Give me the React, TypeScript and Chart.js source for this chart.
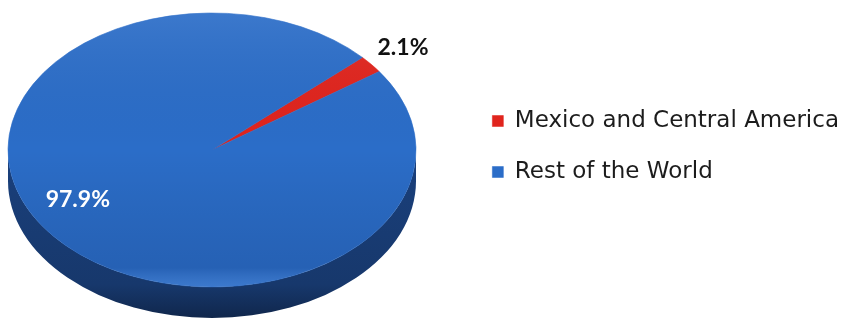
import React, { useEffect, useRef } from "react";
import { Chart, registerables } from "chart.js";

Chart.register(...registerables);

const categories = ["Mexico and Central America", "Rest of the World"];
const shares = [2.1, 97.9];
const valueLabels = ["2.1%", "97.9%"];
const sliceColors = ["#e0241d", "#2b6dc8"];
const sideColors = ["#7a1410", "#17386c"];
const labelColors = ["#111111", "#ffffff"];

const PIE = { cx: 212, cy: 150, rx: 204, ry: 137, depth: 31 };
const START_ROTATION = 47.5;
const LABEL_RADIUS = [1.2, 0.75];
const LABEL_SHIFT_DEG = [0, 10];

function darker(hex: string, f: number) {
  const n = parseInt(hex.slice(1), 16);
  const r = Math.min(255, Math.round(((n >> 16) & 255) * f));
  const g = Math.min(255, Math.round(((n >> 8) & 255) * f));
  const b = Math.min(255, Math.round((n & 255) * f));
  return `rgb(${r},${g},${b})`;
}

const pie3d = {
  id: "pie3d",
  beforeDatasetsDraw(chart: any) {
    const ctx = chart.ctx as CanvasRenderingContext2D;
    const arcs = chart.getDatasetMeta(0).data;
    if (!arcs.length) return;
    const { cx, cy, rx, ry, depth } = PIE;
    ctx.save();
    arcs.forEach((arc: any, i: number) => {
      const { startAngle, endAngle } = arc.getProps(["startAngle", "endAngle"], true);
      for (let k = -1; k <= 1; k++) {
        const off = 2 * Math.PI * k;
        const a0 = Math.max(startAngle, off);
        const a1 = Math.min(endAngle, Math.PI + off);
        if (a1 <= a0) continue;
        const s = a0 - off;
        const e = a1 - off;
        ctx.beginPath();
        ctx.ellipse(cx, cy, rx, ry, 0, s, e, false);
        ctx.ellipse(cx, cy + depth, rx, ry, 0, e, s, true);
        ctx.closePath();
        const g = ctx.createLinearGradient(0, cy, 0, cy + ry + depth);
        g.addColorStop(0, darker(sideColors[i], 1.15));
        g.addColorStop(0.8, sideColors[i]);
        g.addColorStop(1, darker(sideColors[i], 0.7));
        ctx.fillStyle = g;
        ctx.fill();
      }
    });
    ctx.restore();
    const { x: ox, y: oy, outerRadius: R } = arcs[0].getProps(["x", "y", "outerRadius"], true);
    ctx.save();
    ctx.translate(cx, cy);
    ctx.scale(rx / R, ry / R);
    ctx.translate(-ox, -oy);
  },
  afterDatasetsDraw(chart: any) {
    const ctx = chart.ctx as CanvasRenderingContext2D;
    const arcs = chart.getDatasetMeta(0).data;
    if (!arcs.length) return;
    ctx.restore();
    const { cx, cy, rx, ry } = PIE;
    ctx.save();
    ctx.beginPath();
    ctx.ellipse(cx, cy, rx, ry, 0, 0, Math.PI * 2);
    ctx.clip();
    const g = ctx.createLinearGradient(0, cy - ry, 0, cy + ry);
    g.addColorStop(0, "rgba(255,255,255,0.08)");
    g.addColorStop(0.5, "rgba(0,0,0,0)");
    g.addColorStop(0.93, "rgba(0,10,40,0.12)");
    g.addColorStop(1, "rgba(255,255,255,0.08)");
    ctx.fillStyle = g;
    ctx.fillRect(cx - rx, cy - ry, rx * 2, ry * 2);
    ctx.restore();
    ctx.save();
    ctx.font = "bold 23px Lato, 'DejaVu Sans', sans-serif";
    ctx.textAlign = "center";
    ctx.textBaseline = "middle";
    arcs.forEach((arc: any, i: number) => {
      const { startAngle, endAngle } = arc.getProps(["startAngle", "endAngle"], true);
      const mid = (startAngle + endAngle) / 2 + (LABEL_SHIFT_DEG[i] * Math.PI) / 180;
      const x = cx + rx * LABEL_RADIUS[i] * Math.cos(mid);
      const y = cy + ry * LABEL_RADIUS[i] * Math.sin(mid);
      ctx.fillStyle = labelColors[i];
      ctx.fillText(valueLabels[i], x, y);
    });
    ctx.restore();
  },
};

export default function App() {
  const ref = useRef<HTMLCanvasElement | null>(null);
  useEffect(() => {
    document.body.style.margin = "0";
    const chart = new Chart(ref.current as HTMLCanvasElement, {
      type: "pie",
      data: {
        labels: categories,
        datasets: [
          {
            data: shares,
            backgroundColor: sliceColors,
            borderColor: sliceColors,
            borderWidth: 0.5,
            clip: false,
          } as any,
        ],
      },
      options: {
        animation: false,
        responsive: true,
        maintainAspectRatio: false,
        rotation: START_ROTATION,
        layout: { padding: { bottom: 29, right: 7 } },
        plugins: {
          tooltip: { enabled: false },
          legend: {
            position: "right",
            labels: {
              boxWidth: 11,
              boxHeight: 11,
              padding: 28,
              color: "#1c1c1c",
              font: { family: "'DejaVu Sans', sans-serif", size: 23 },
            },
          },
        },
      },
      plugins: [pie3d],
    });
    return () => chart.destroy();
  }, []);
  return (
    <div style={{ width: 856, height: 322, position: "relative", background: "#ffffff" }}>
      <canvas ref={ref} />
    </div>
  );
}
